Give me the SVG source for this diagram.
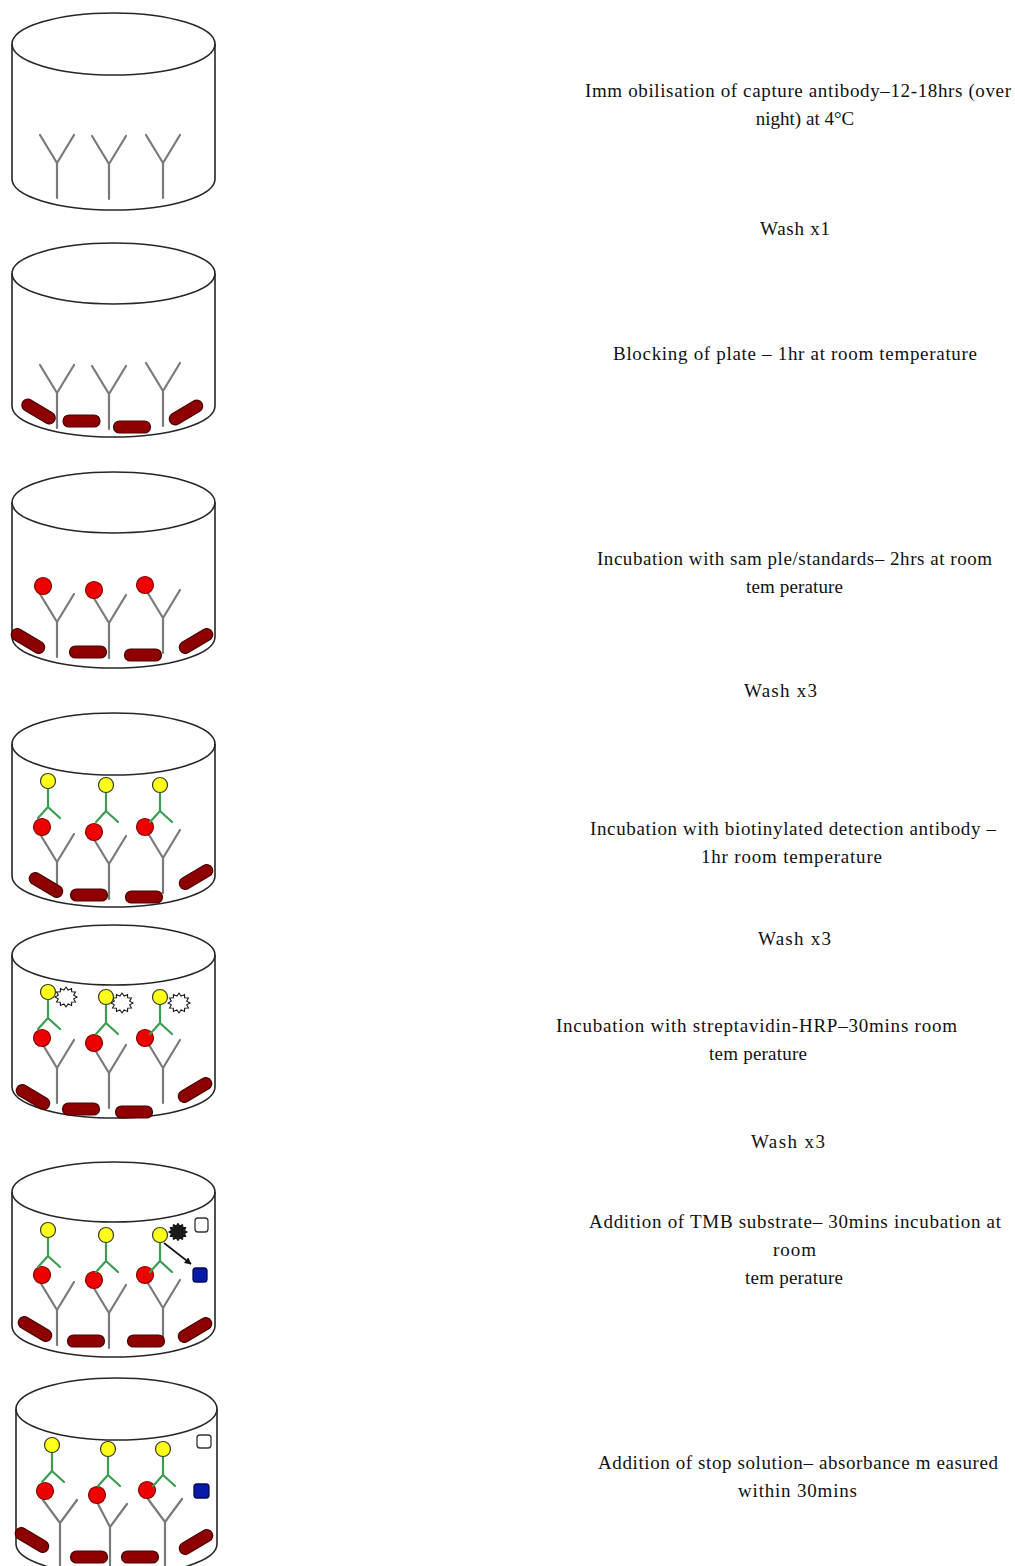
<svg xmlns="http://www.w3.org/2000/svg" width="1015" height="1566" viewBox="0 0 1015 1566">
  <style>
    .well{fill:none;stroke:#262626;stroke-width:1.6}
    .cab{fill:none;stroke:#7a7a7a;stroke-width:2.2;stroke-linecap:round;stroke-linejoin:round}
    .dab{fill:none;stroke:#3c9d52;stroke-width:2.2;stroke-linecap:round;stroke-linejoin:round}
    .bio{fill:#ffff1a;stroke:#3a3a20;stroke-width:1.2}
    .ag{fill:#ee0000;stroke:#8a0000;stroke-width:1.2}
    .blk{fill:#8e0000;stroke:#4a0000;stroke-width:1.2}
    .hrp{fill:#ffffff;stroke:#111;stroke-width:1.1}
    .hrpa{fill:#1a1a1a;stroke:#000;stroke-width:1}
    .sub{fill:#ffffff;stroke:#333;stroke-width:1.3}
    .prod{fill:#0a1aa8;stroke:#050a55;stroke-width:1.3}
    .lbl{font-family:"Liberation Serif","Times New Roman",serif;font-size:19px;fill:#111}
  </style>
  <defs>
    <!-- capture antibody: junction at origin -->
    <path id="cab" class="cab" d="M-17,-28 L0,0 L17,-28 M0,0 V35"/>
    <!-- biotinylated detection antibody: biotin centre at origin -->
    <g id="dab">
      <path class="dab" d="M0,6 V26 M-10,37 L0,26 L12,37"/>
      <circle class="bio" r="7.5"/>
    </g>
    <circle id="ag" class="ag" r="8.5"/>
    <rect id="blk" class="blk" x="-18.5" y="-6" width="37" height="12" rx="6"/>
    <polygon id="star" points="11,0 7.7,2.1 9.5,5.5 5.7,5.7 5.5,9.5 2.1,7.7 0,11 -2.1,7.7 -5.5,9.5 -5.7,5.7 -9.5,5.5 -7.7,2.1 -11,0 -7.7,-2.1 -9.5,-5.5 -5.7,-5.7 -5.5,-9.5 -2.1,-7.7 0,-11 2.1,-7.7 5.5,-9.5 5.7,-5.7 9.5,-5.5 7.7,-2.1"/>
    <marker id="ah" viewBox="0 0 10 10" refX="9" refY="5" markerWidth="7" markerHeight="7" orient="auto" markerUnits="userSpaceOnUse">
      <path d="M0,0 L10,5 L0,10 z" fill="#111"/>
    </marker>
  </defs>
  <rect width="1015" height="1566" fill="#ffffff"/>

  <!-- Step 1: capture antibody -->
  <g id="well1">
    <ellipse class="well" cx="113.5" cy="44" rx="101.5" ry="31"/>
    <path class="well" d="M12,44 V179 A101.5,31 0 0 0 215,179 V44"/>
    <use href="#cab" x="57" y="163"/>
    <use href="#cab" x="109" y="164"/>
    <use href="#cab" x="163" y="163"/>
  </g>

  <!-- Step 2: blocking -->
  <g id="well2">
    <ellipse class="well" cx="113.5" cy="273.5" rx="101.5" ry="30.5"/>
    <path class="well" d="M12,273.5 V406 A101.5,31 0 0 0 215,406 V273.5"/>
    <use href="#cab" x="57" y="393"/>
    <use href="#cab" x="109" y="394"/>
    <use href="#cab" x="163" y="391"/>
    <use href="#blk" transform="translate(38.5,411.5) rotate(31)"/>
    <use href="#blk" transform="translate(81.5,421)"/>
    <use href="#blk" transform="translate(132,427)"/>
    <use href="#blk" transform="translate(186,412.5) rotate(-31)"/>
  </g>

  <!-- Step 3: sample / standards -->
  <g id="well3">
    <ellipse class="well" cx="113.5" cy="502.5" rx="101.5" ry="30.5"/>
    <path class="well" d="M12,502.5 V637 A101.5,31 0 0 0 215,637 V502.5"/>
    <use href="#cab" x="57" y="622"/>
    <use href="#cab" x="109" y="623"/>
    <use href="#cab" x="163" y="618"/>
    <use href="#ag" x="43" y="586"/>
    <use href="#ag" x="94" y="590"/>
    <use href="#ag" x="145" y="585"/>
    <use href="#blk" transform="translate(28,641) rotate(31)"/>
    <use href="#blk" transform="translate(88,652)"/>
    <use href="#blk" transform="translate(143,655)"/>
    <use href="#blk" transform="translate(196,641) rotate(-31)"/>
  </g>

  <!-- Step 4: detection antibody -->
  <g id="well4">
    <ellipse class="well" cx="113.5" cy="744" rx="101.5" ry="31"/>
    <path class="well" d="M12,744 V876 A101.5,31 0 0 0 215,876 V744"/>
    <use href="#cab" x="57" y="862"/>
    <use href="#cab" x="109" y="864"/>
    <use href="#cab" x="163" y="858"/>
    <use href="#ag" x="42" y="827"/>
    <use href="#ag" x="94" y="832"/>
    <use href="#ag" x="145" y="827"/>
    <use href="#dab" x="48" y="781"/>
    <use href="#dab" x="106" y="785"/>
    <use href="#dab" x="160" y="785"/>
    <use href="#blk" transform="translate(46,885) rotate(31)"/>
    <use href="#blk" transform="translate(89,895)"/>
    <use href="#blk" transform="translate(144,897)"/>
    <use href="#blk" transform="translate(196,877) rotate(-31)"/>
  </g>

  <!-- Step 5: streptavidin-HRP -->
  <g id="well5">
    <ellipse class="well" cx="113.5" cy="955" rx="101.5" ry="30"/>
    <path class="well" d="M12,955 V1087 A101.5,31 0 0 0 215,1087 V955"/>
    <use href="#cab" x="57" y="1068"/>
    <use href="#cab" x="109" y="1073"/>
    <use href="#cab" x="163" y="1068"/>
    <use href="#ag" x="42" y="1038"/>
    <use href="#ag" x="94" y="1043"/>
    <use href="#ag" x="145" y="1038"/>
    <use href="#star" class="hrp" transform="translate(66,997) scale(1,0.9)"/>
    <use href="#star" class="hrp" transform="translate(122,1003) scale(1,0.9)"/>
    <use href="#star" class="hrp" transform="translate(179,1003) scale(1,0.9)"/>
    <use href="#dab" x="48" y="992"/>
    <use href="#dab" x="106" y="997"/>
    <use href="#dab" x="160" y="997"/>
    <use href="#blk" transform="translate(33,1097) rotate(31)"/>
    <use href="#blk" transform="translate(81,1109)"/>
    <use href="#blk" transform="translate(134,1112)"/>
    <use href="#blk" transform="translate(195,1090) rotate(-31)"/>
  </g>

  <!-- Step 6: TMB substrate -->
  <g id="well6">
    <ellipse class="well" cx="113.5" cy="1192" rx="101.5" ry="30"/>
    <path class="well" d="M12,1192 V1326 A101.5,31 0 0 0 215,1326 V1192"/>
    <use href="#cab" x="57" y="1310"/>
    <use href="#cab" x="109" y="1313"/>
    <use href="#cab" x="163" y="1308"/>
    <use href="#ag" x="42" y="1275"/>
    <use href="#ag" x="94" y="1280"/>
    <use href="#ag" x="145" y="1275"/>
    <use href="#star" class="hrpa" transform="translate(178,1232) scale(0.85,0.8)"/>
    <use href="#dab" x="48" y="1230"/>
    <use href="#dab" x="106" y="1235"/>
    <use href="#dab" x="160" y="1235"/>
    <rect class="sub" x="195" y="1218" width="13" height="14" rx="3"/>
    <line x1="164" y1="1243" x2="191" y2="1264" stroke="#111" stroke-width="1.6" marker-end="url(#ah)"/>
    <rect class="prod" x="193" y="1268" width="14" height="14" rx="3"/>
    <use href="#blk" transform="translate(35,1329) rotate(31)"/>
    <use href="#blk" transform="translate(86,1341)"/>
    <use href="#blk" transform="translate(146,1341)"/>
    <use href="#blk" transform="translate(195,1330) rotate(-31)"/>
  </g>

  <!-- Step 7: stop solution -->
  <g id="well7">
    <ellipse class="well" cx="116.5" cy="1409" rx="100.5" ry="31"/>
    <path class="well" d="M16,1409 V1544 A100.5,31 0 0 0 217,1544 V1409"/>
    <path class="cab" d="M43,1500 L60,1523 L77,1500 M60,1523 V1566"/>
    <path class="cab" d="M97,1502 L110,1527 L127,1504 M110,1527 V1566"/>
    <path class="cab" d="M148,1499 L165,1522 L182,1499 M165,1522 V1566"/>
    <use href="#ag" x="45" y="1491"/>
    <use href="#ag" x="97" y="1495"/>
    <use href="#ag" x="147" y="1490"/>
    <use href="#dab" x="52" y="1445"/>
    <use href="#dab" x="108" y="1449"/>
    <use href="#dab" x="163" y="1449"/>
    <rect class="sub" x="197" y="1435" width="14" height="13" rx="3"/>
    <rect class="prod" x="194" y="1484" width="15" height="14" rx="3"/>
    <use href="#blk" transform="translate(32,1540) rotate(31)"/>
    <use href="#blk" transform="translate(89,1557)"/>
    <use href="#blk" transform="translate(140,1557)"/>
    <use href="#blk" transform="translate(196,1542) rotate(-31)"/>
  </g>

  <!-- Step descriptions -->
  <g id="step1-text" class="lbl">
    <text x="585" y="97" textLength="426" lengthAdjust="spacing">Imm obilisation of capture antibody–12-18hrs (over</text>
    <text x="805" y="125" text-anchor="middle">night) at 4°C</text>
  </g>
  <g id="wash1-text" class="lbl">
    <text x="760" y="235" textLength="70" lengthAdjust="spacing">Wash x1</text>
  </g>
  <g id="step2-text" class="lbl">
    <text x="613" y="360" textLength="364" lengthAdjust="spacing">Blocking of plate – 1hr at room temperature</text>
  </g>
  <g id="step3-text" class="lbl">
    <text x="597" y="565" textLength="395" lengthAdjust="spacing">Incubation with sam ple/standards– 2hrs at room</text>
    <text x="746" y="593" textLength="97" lengthAdjust="spacing">tem perature</text>
  </g>
  <g id="wash2-text" class="lbl">
    <text x="744" y="697" textLength="73" lengthAdjust="spacing">Wash x3</text>
  </g>
  <g id="step4-text" class="lbl">
    <text x="590" y="835" textLength="406" lengthAdjust="spacing">Incubation with biotinylated detection antibody –</text>
    <text x="701" y="863" textLength="181" lengthAdjust="spacing">1hr room temperature</text>
  </g>
  <g id="wash3-text" class="lbl">
    <text x="758" y="945" textLength="73" lengthAdjust="spacing">Wash x3</text>
  </g>
  <g id="step5-text" class="lbl">
    <text x="556" y="1032" textLength="401" lengthAdjust="spacing">Incubation with streptavidin-HRP–30mins room</text>
    <text x="709" y="1060" textLength="98" lengthAdjust="spacing">tem perature</text>
  </g>
  <g id="wash4-text" class="lbl">
    <text x="751" y="1148" textLength="74" lengthAdjust="spacing">Wash x3</text>
  </g>
  <g id="step6-text" class="lbl">
    <text x="589" y="1228" textLength="412" lengthAdjust="spacing">Addition of TMB substrate– 30mins incubation at</text>
    <text x="773" y="1256" textLength="43" lengthAdjust="spacing">room</text>
    <text x="745" y="1284" textLength="98" lengthAdjust="spacing">tem perature</text>
  </g>
  <g id="step7-text" class="lbl">
    <text x="598" y="1469" textLength="400" lengthAdjust="spacing">Addition of stop solution– absorbance m easured</text>
    <text x="738" y="1497" textLength="119" lengthAdjust="spacing">within 30mins</text>
  </g>
</svg>
